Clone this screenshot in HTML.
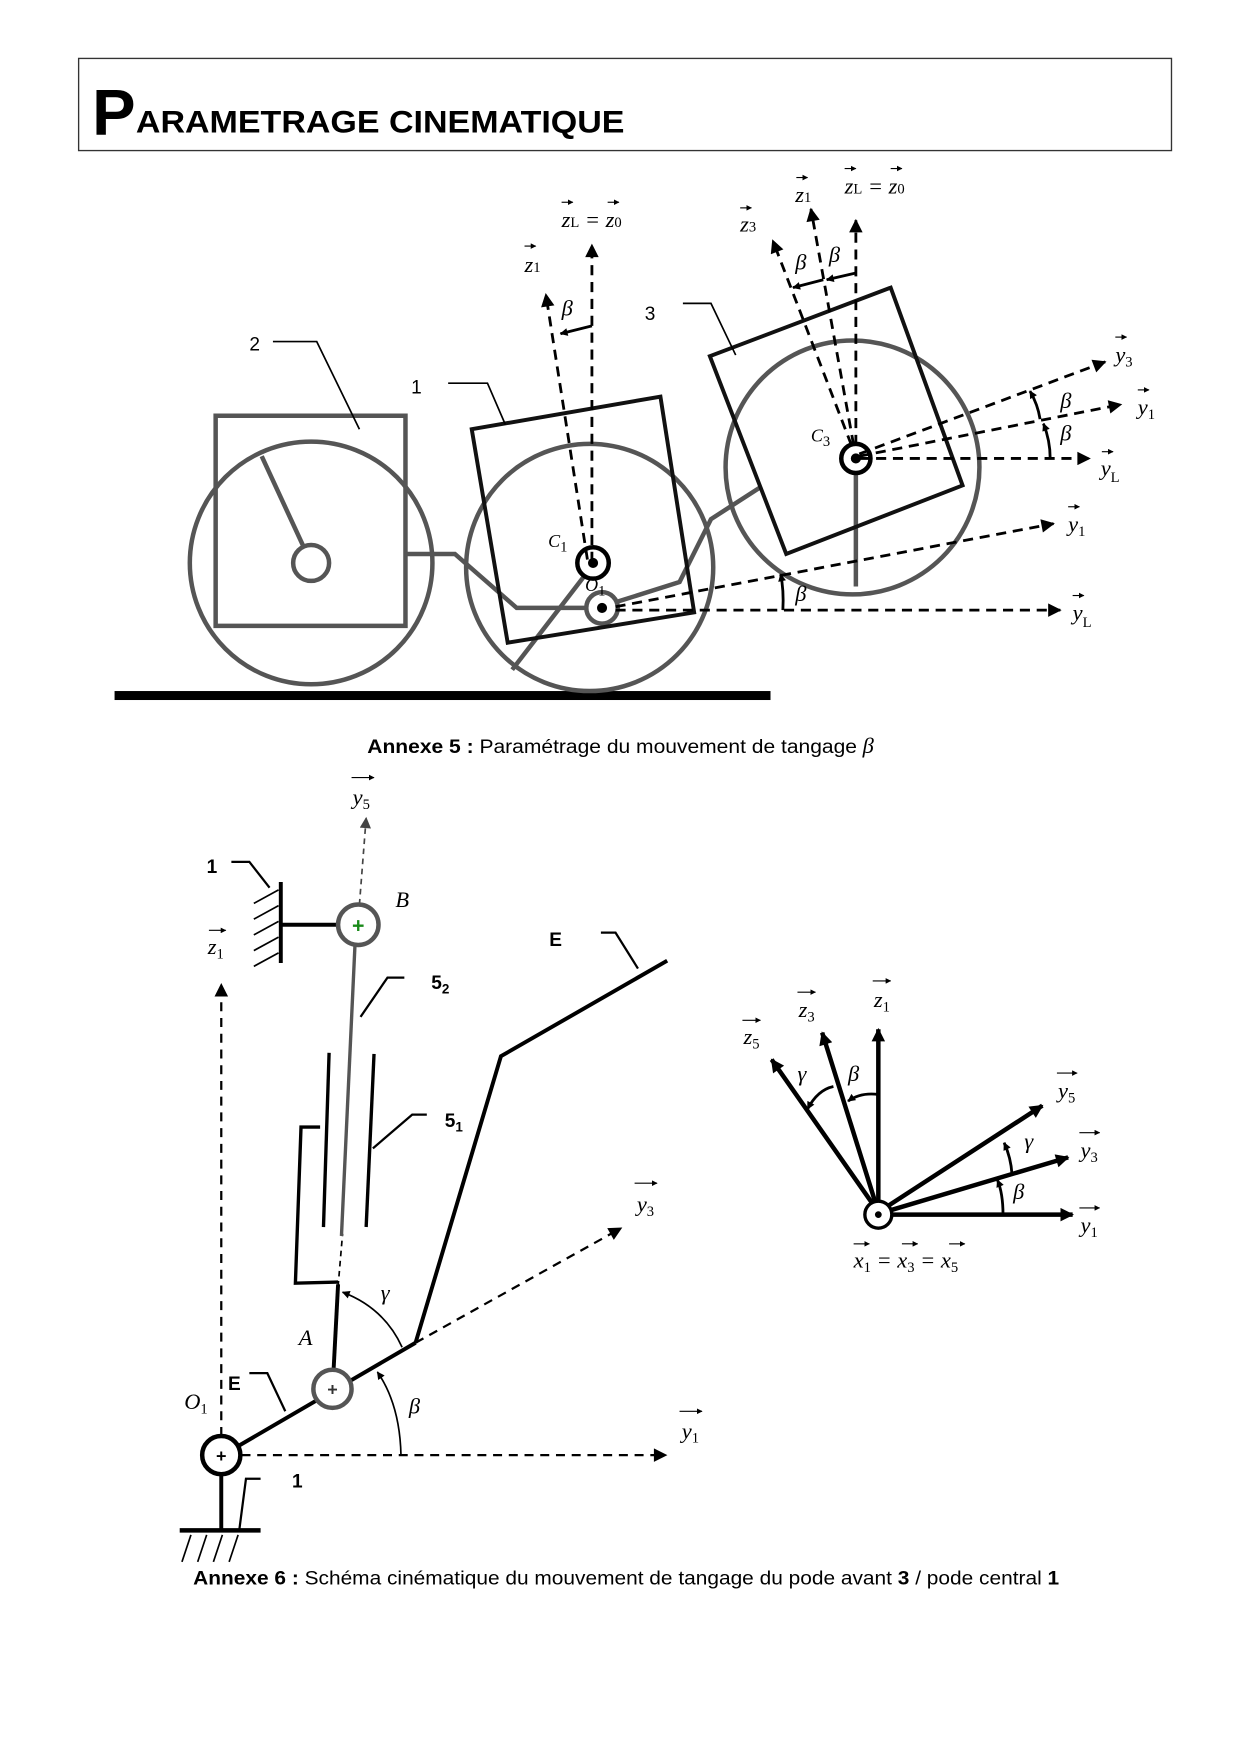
<!DOCTYPE html>
<html><head><meta charset="utf-8"><style>
html,body{margin:0;padding:0;background:#fff}
svg{display:block}
.v{font-family:"Liberation Serif",serif;font-style:italic;font-size:20px}
.s{font-size:13px;font-style:normal}
.g{font-family:"Liberation Serif",serif;font-style:italic;font-size:20px}
.b{font-family:"Liberation Sans",sans-serif;font-weight:bold;font-size:17px}
.n{font-family:"Liberation Sans",sans-serif;font-size:17px}
</style></head><body>
<svg width="1240" height="1754" viewBox="0 0 1104 1561" preserveAspectRatio="none" xmlns="http://www.w3.org/2000/svg">
<defs>
<marker id="a" viewBox="0 0 10 10" refX="9" refY="5" markerWidth="14" markerHeight="12" markerUnits="userSpaceOnUse" orient="auto"><path d="M0,0 L10,5 L0,10z" fill="#000"/></marker>
<marker id="ag" viewBox="0 0 10 10" refX="9" refY="5" markerWidth="12" markerHeight="10" markerUnits="userSpaceOnUse" orient="auto"><path d="M0,0 L10,5 L0,10z" fill="#444"/></marker>
<marker id="as" viewBox="0 0 10 10" refX="9" refY="5" markerWidth="9" markerHeight="7" markerUnits="userSpaceOnUse" orient="auto"><path d="M0,0 L10,5 L0,10z" fill="#000"/></marker>
<marker id="sm" viewBox="0 0 10 10" refX="9" refY="5" markerWidth="5" markerHeight="5" markerUnits="userSpaceOnUse" orient="auto"><path d="M0,0 L10,5 L0,10z" fill="#000"/></marker>
</defs>

<rect x="70" y="52" width="973" height="82" fill="none" stroke="#333" stroke-width="1.2"/>
<text x="82" y="120" font-family="Liberation Sans,sans-serif" font-weight="bold" font-size="58">P</text>
<text x="121" y="118" font-family="Liberation Sans,sans-serif" font-weight="bold" font-size="28" textLength="435" lengthAdjust="spacingAndGlyphs">ARAMETRAGE CINEMATIQUE</text>

<rect x="102" y="615" width="584" height="8" fill="#000"/>
<g fill="none" stroke="#555" stroke-width="4">
<circle cx="277" cy="501" r="108"/>
<rect x="192" y="370" width="169" height="187"/>
<circle cx="277" cy="501" r="16"/>
<line x1="270" y1="486" x2="233" y2="406"/>
<circle cx="525" cy="505" r="110"/>
<polyline points="361,493 405,493 460,541 522,541"/>
<line x1="520" y1="513" x2="456" y2="596"/>
<polyline points="548,536 605,518 633,462 678,433"/>
<circle cx="759" cy="416" r="113"/>
<line x1="762" y1="420" x2="762" y2="522"/>
<circle cx="536" cy="541" r="14"/>
</g>
<polygon points="420,382 588,353 618,545 452,572" fill="none" stroke="#111" stroke-width="3.5"/>
<polygon points="632,317 793,256 857,432 700,493" fill="none" stroke="#111" stroke-width="3.5"/>
<circle cx="528" cy="501" r="14" fill="#fff" stroke="#000" stroke-width="4"/>
<circle cx="528" cy="501" r="4.5" fill="#000"/>
<circle cx="536" cy="541" r="4.5" fill="#000"/>
<circle cx="762" cy="408" r="13" fill="none" stroke="#000" stroke-width="4"/>
<circle cx="762" cy="408" r="4.5" fill="#000"/>

<g fill="none" stroke="#000" stroke-width="1.5">
<polyline points="243,304 282,304 320,382"/>
<polyline points="399,341 434,341 450,378"/>
<polyline points="608,270 633,270 655,316"/>
</g>
<text x="222" y="312" class="n">2</text>
<text x="366" y="350" class="n">1</text>
<text x="574" y="285" class="n">3</text>

<g fill="none" stroke="#000" stroke-width="2.5" stroke-dasharray="9,6">
<line x1="527" y1="500" x2="527" y2="218" marker-end="url(#a)"/>
<line x1="523" y1="498" x2="486" y2="262" marker-end="url(#a)"/>
<line x1="548" y1="543" x2="944" y2="543" marker-end="url(#a)"/>
<line x1="548" y1="540" x2="938" y2="466" marker-end="url(#a)"/>
<line x1="765" y1="408" x2="970" y2="408" marker-end="url(#a)"/>
<line x1="765" y1="406" x2="998" y2="360" marker-end="url(#a)"/>
<line x1="765" y1="404" x2="984" y2="322" marker-end="url(#a)"/>
<line x1="762" y1="396" x2="762" y2="196" marker-end="url(#a)"/>
<line x1="760" y1="396" x2="722" y2="186" marker-end="url(#a)"/>
<line x1="758" y1="396" x2="688" y2="214" marker-end="url(#a)"/>
</g>
<g fill="none" stroke="#000" stroke-width="2.5">
<path d="M527,290 L499,297" marker-end="url(#as)"/>
<path d="M697,543 Q698,525 695,511" marker-end="url(#as)"/>
<path d="M762,243 L736,249" marker-end="url(#as)"/>
<path d="M733,249 L706,256" marker-end="url(#as)"/>
<path d="M935,408 Q935,392 929,377" marker-end="url(#as)"/>
<path d="M926,373 Q924,360 917,348" marker-end="url(#as)"/>
</g>
<g class="g">
<text x="500" y="281">β</text>
<text x="708" y="535">β</text>
<text x="738" y="233">β</text>
<text x="708" y="240">β</text>
<text x="944" y="363">β</text>
<text x="944" y="392">β</text>
</g>
<g stroke="#000" stroke-width="1" fill="none">
<line x1="500" y1="180" x2="510" y2="180" marker-end="url(#sm)"/>
<line x1="541" y1="180" x2="551" y2="180" marker-end="url(#sm)"/>
<line x1="467" y1="219" x2="477" y2="219" marker-end="url(#sm)"/>
<line x1="752" y1="150" x2="762" y2="150" marker-end="url(#sm)"/>
<line x1="793" y1="150" x2="803" y2="150" marker-end="url(#sm)"/>
<line x1="709" y1="158" x2="719" y2="158" marker-end="url(#sm)"/>
<line x1="659" y1="185" x2="669" y2="185" marker-end="url(#sm)"/>
<line x1="993" y1="300" x2="1003" y2="300" marker-end="url(#sm)"/>
<line x1="1013" y1="347" x2="1023" y2="347" marker-end="url(#sm)"/>
<line x1="981" y1="402" x2="991" y2="402" marker-end="url(#sm)"/>
<line x1="951" y1="451" x2="961" y2="451" marker-end="url(#sm)"/>
<line x1="955" y1="530" x2="965" y2="530" marker-end="url(#sm)"/>
</g>
<g class="v">
<text x="500" y="202">z<tspan class="s">L</tspan> = z<tspan class="s">0</tspan></text>
<text x="467" y="242">z<tspan class="s">1</tspan></text>
<text x="752" y="172">z<tspan class="s">L</tspan> = z<tspan class="s">0</tspan></text>
<text x="708" y="180">z<tspan class="s">1</tspan></text>
<text x="659" y="206">z<tspan class="s">3</tspan></text>
<text x="993" y="322">y<tspan class="s" dy="4">3</tspan></text>
<text x="1013" y="369">y<tspan class="s" dy="4">1</tspan></text>
<text x="980" y="423">y<tspan class="s" dy="6">L</tspan></text>
<text x="951" y="473">y<tspan class="s" dy="4">1</tspan></text>
<text x="955" y="552">y<tspan class="s" dy="6">L</tspan></text>
<text x="488" y="487" font-size="16">C<tspan class="s" dy="4">1</tspan></text>
<text x="521" y="526" font-size="16">O<tspan class="s" dy="4">1</tspan></text>
<text x="722" y="393" font-size="16">C<tspan class="s" dy="4">3</tspan></text>
</g>
<text x="327" y="670" class="n" textLength="436" lengthAdjust="spacingAndGlyphs"><tspan font-weight="bold">Annexe 5 :</tspan> Paramétrage du mouvement de tangage</text>
<text x="768" y="670" class="g">β</text>

<g fill="none" stroke="#000" stroke-width="2" stroke-dasharray="8,6">
<line x1="197" y1="1278" x2="197" y2="876" marker-end="url(#a)"/>
<line x1="215" y1="1295" x2="593" y2="1295" marker-end="url(#a)"/>
<line x1="370" y1="1195" x2="553" y2="1093" marker-end="url(#a)"/>
<line x1="301" y1="1145" x2="305" y2="1098" stroke-width="1.5" stroke-dasharray="5,4"/>
<line x1="320" y1="805" x2="326" y2="728" stroke="#444" stroke-width="1.5" stroke-dasharray="5,4" marker-end="url(#ag)"/>
</g>
<g fill="none" stroke="#000" stroke-width="3.5">
<line x1="212" y1="1287" x2="370" y2="1195"/>
<polyline points="370,1195 446,940 594,855"/>
<line x1="297" y1="1219" x2="301" y2="1143"/>
<polyline points="301,1141 263,1142 268,1003 285,1003" stroke-width="3"/>
<line x1="293" y1="937" x2="288" y2="1092" stroke-width="3"/>
<line x1="333" y1="938" x2="326" y2="1092" stroke-width="3"/>
<line x1="197" y1="1312" x2="197" y2="1362"/>
<line x1="160" y1="1362" x2="232" y2="1362" stroke-width="4"/>
<line x1="250" y1="823" x2="301" y2="823"/>
<line x1="250" y1="785" x2="250" y2="857"/>
</g>
<line x1="304" y1="1100" x2="316" y2="842" stroke="#555" stroke-width="3"/>
<g stroke="#000" stroke-width="1.5" fill="none">
<line x1="170" y1="1366" x2="162" y2="1390"/><line x1="184" y1="1366" x2="176" y2="1390"/>
<line x1="198" y1="1366" x2="190" y2="1390"/><line x1="212" y1="1366" x2="204" y2="1390"/>
<line x1="248" y1="792" x2="226" y2="804"/><line x1="248" y1="806" x2="226" y2="818"/>
<line x1="248" y1="820" x2="226" y2="832"/><line x1="248" y1="834" x2="226" y2="846"/>
<line x1="248" y1="848" x2="226" y2="860"/>
</g>
<g stroke="#000" stroke-width="2" fill="none">
<polyline points="232,1316 219,1316 213,1362"/>
<polyline points="206,767 222,767 240,790"/>
<polyline points="222,1222 238,1222 254,1256"/>
<polyline points="535,830 548,830 568,862"/>
<polyline points="360,870 345,870 321,905"/>
<polyline points="380,992 367,992 332,1022"/>
<path d="M357,1295 Q356,1250 336,1221" stroke-width="1.5" marker-end="url(#as)"/>
<path d="M358,1199 Q342,1164 305,1150" stroke-width="1.5" marker-end="url(#as)"/>
</g>
<circle cx="197" cy="1295" r="17" fill="#fff" stroke="#000" stroke-width="4"/>
<text x="197" y="1301" text-anchor="middle" font-family="Liberation Sans,sans-serif" font-weight="bold" font-size="16">+</text>
<circle cx="296" cy="1236" r="17" fill="#fff" stroke="#555" stroke-width="4"/>
<text x="296" y="1242" text-anchor="middle" font-family="Liberation Sans,sans-serif" font-weight="bold" font-size="16" fill="#333">+</text>
<circle cx="319" cy="823" r="18" fill="#fff" stroke="#555" stroke-width="4"/>
<text x="319" y="830" text-anchor="middle" font-family="Liberation Sans,sans-serif" font-weight="bold" font-size="19" fill="#1a8a1a">+</text>
<g class="b">
<text x="184" y="777">1</text>
<text x="260" y="1324">1</text>
<text x="203" y="1237">E</text>
<text x="489" y="842">E</text>
<text x="384" y="880">5<tspan font-size="12" dy="4">2</tspan></text>
<text x="396" y="1003">5<tspan font-size="12" dy="4">1</tspan></text>
</g>
<g class="g">
<text x="352" y="807">B</text>
<text x="266" y="1197">A</text>
<text x="164" y="1254">O<tspan class="s" dy="4">1</tspan></text>
<text x="364" y="1258">β</text>
<text x="339" y="1157">γ</text>
</g>
<g stroke="#000" stroke-width="1" fill="none">
<line x1="313" y1="692" x2="333" y2="692" marker-end="url(#sm)"/>
<line x1="186" y1="828" x2="201" y2="828" marker-end="url(#sm)"/>
<line x1="565" y1="1053" x2="585" y2="1053" marker-end="url(#sm)"/>
<line x1="605" y1="1256" x2="625" y2="1256" marker-end="url(#sm)"/>
</g>
<g class="v">
<text x="314" y="716">y<tspan class="s" dy="4">5</tspan></text>
<text x="185" y="849">z<tspan class="s" dy="4">1</tspan></text>
<text x="567" y="1078">y<tspan class="s" dy="4">3</tspan></text>
<text x="607" y="1280">y<tspan class="s" dy="4">1</tspan></text>
</g>

<g fill="none" stroke="#000" stroke-width="4">
<line x1="794" y1="1081" x2="955" y2="1081" marker-end="url(#a)"/>
<line x1="793" y1="1077" x2="951" y2="1030" marker-end="url(#a)"/>
<line x1="791" y1="1073" x2="928" y2="984" marker-end="url(#a)"/>
<line x1="782" y1="1069" x2="782" y2="916" marker-end="url(#a)"/>
<line x1="779" y1="1069" x2="732" y2="919" marker-end="url(#a)"/>
<line x1="776" y1="1070" x2="687" y2="943" marker-end="url(#a)"/>
</g>
<circle cx="782" cy="1081" r="12" fill="#fff" stroke="#000" stroke-width="3"/>
<circle cx="782" cy="1081" r="3" fill="#000"/>
<g fill="none" stroke="#000" stroke-width="2.5">
<path d="M893,1081 Q893,1062 888,1050" marker-end="url(#as)"/>
<path d="M901,1045 Q900,1030 894,1017" marker-end="url(#as)"/>
<path d="M782,974 Q766,972 755,980" marker-end="url(#as)"/>
<path d="M742,967 Q728,970 719,987" marker-end="url(#as)"/>
</g>
<g class="g">
<text x="902" y="1067">β</text>
<text x="912" y="1022">γ</text>
<text x="755" y="962">β</text>
<text x="710" y="962">γ</text>
</g>
<g stroke="#000" stroke-width="1" fill="none">
<line x1="777" y1="873" x2="793" y2="873" marker-end="url(#sm)"/>
<line x1="710" y1="883" x2="726" y2="883" marker-end="url(#sm)"/>
<line x1="661" y1="908" x2="677" y2="908" marker-end="url(#sm)"/>
<line x1="941" y1="955" x2="959" y2="955" marker-end="url(#sm)"/>
<line x1="961" y1="1008" x2="979" y2="1008" marker-end="url(#sm)"/>
<line x1="961" y1="1075" x2="979" y2="1075" marker-end="url(#sm)"/>
<line x1="760" y1="1107" x2="774" y2="1107" marker-end="url(#sm)"/>
<line x1="803" y1="1107" x2="817" y2="1107" marker-end="url(#sm)"/>
<line x1="845" y1="1107" x2="859" y2="1107" marker-end="url(#sm)"/>
</g>
<g class="v">
<text x="778" y="896">z<tspan class="s" dy="4">1</tspan></text>
<text x="711" y="905">z<tspan class="s" dy="4">3</tspan></text>
<text x="662" y="929">z<tspan class="s" dy="4">5</tspan></text>
<text x="942" y="977">y<tspan class="s" dy="4">5</tspan></text>
<text x="962" y="1030">y<tspan class="s" dy="4">3</tspan></text>
<text x="962" y="1097">y<tspan class="s" dy="4">1</tspan></text>
<text x="760" y="1128">x<tspan class="s" dy="4">1</tspan><tspan dy="-4"> = x</tspan><tspan class="s" dy="4">3</tspan><tspan dy="-4"> = x</tspan><tspan class="s" dy="4">5</tspan></text>
</g>
<text x="172" y="1410" class="n" textLength="771" lengthAdjust="spacingAndGlyphs"><tspan font-weight="bold">Annexe 6 :</tspan> Schéma cinématique du mouvement de tangage du pode avant <tspan font-weight="bold">3</tspan> / pode central <tspan font-weight="bold">1</tspan></text>
</svg>
</body></html>
